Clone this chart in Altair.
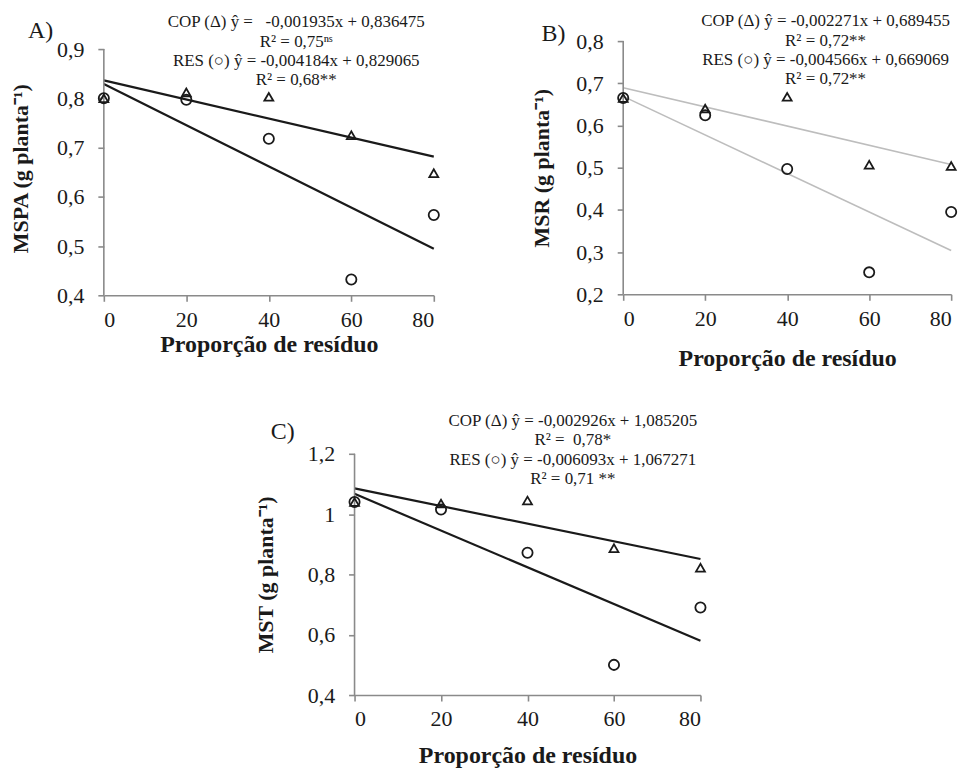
import altair as alt
import pandas as pd

# ---------------- data ----------------
x_vals = [0, 20, 40, 60, 80]

mspa_cop = [0.800, 0.812, 0.803, 0.725, 0.648]
mspa_res = [0.800, 0.797, 0.718, 0.432, 0.563]

msr_cop = [0.665, 0.640, 0.668, 0.507, 0.504]
msr_res = [0.665, 0.624, 0.497, 0.252, 0.395]

mst_cop = [1.040, 1.035, 1.045, 0.887, 0.822]
mst_res = [1.040, 1.015, 0.872, 0.500, 0.690]

# regression coefficients (slope, intercept) printed on the chart
coef_a = {"COP": (-0.001935, 0.836475), "RES": (-0.004184, 0.829065)}
coef_b = {"COP": (-0.002271, 0.689455), "RES": (-0.004566, 0.669069)}
coef_c = {"COP": (-0.002926, 1.085205), "RES": (-0.006093, 1.067271)}

ann_a = ["COP (\u0394) \u0177 = \u00a0\u00a0-0,001935x + 0,836475",
         "R\u00b2 = 0,75\u207f\u02e2",
         "RES (\u25cb) \u0177 = -0,004184x + 0,829065",
         "R\u00b2 = 0,68**"]
ann_b = ["COP (\u0394) \u0177 = -0,002271x + 0,689455",
         "R\u00b2 = 0,72**",
         "RES (\u25cb) \u0177 = -0,004566x + 0,669069",
         "R\u00b2 = 0,72**"]
ann_c = ["COP (\u0394) \u0177 = -0,002926x + 1,085205",
         "R\u00b2 = \u00a00,78*",
         "RES (\u25cb) \u0177 = -0,006093x + 1,067271",
         "R\u00b2 = 0,71 **"]

FONT = "Liberation Serif"
INK = "#1a1a1a"
AX = "#8a8a8a"


def panel(cop, res, coef, ydom, ytop, yticks, ytitle, label, ann, line_color, line_w,
          w, h, ann_x, ann_y, ann_dy, lab_x, lab_y, ytitle_pad, xtitle_pad, left_pad=None):
    pts = pd.DataFrame({
        "x": x_vals * 2,
        "y": cop + res,
        "g": ["COP"] * len(x_vals) + ["RES"] * len(x_vals),
    })
    ln = pd.DataFrame({
        "x": [0, 80, 0, 80],
        "g": ["COP", "COP", "RES", "RES"],
        "b": [coef["COP"][0]] * 2 + [coef["RES"][0]] * 2,
        "a": [coef["COP"][1]] * 2 + [coef["RES"][1]] * 2,
    })
    axis_df = pd.DataFrame({"x": [0], "y0": [ydom[0]], "y1": [ydom[1]]})
    xs = alt.Scale(domain=[0, 80], nice=False)
    ys = alt.Scale(domain=[ydom[0], ytop], nice=False, zero=False)
    xax = alt.Axis(values=[0, 20, 40, 60, 80], title="Proporção de resíduo",
                   titlePadding=xtitle_pad, labelPadding=8, titleFontSize=24,
                   labelFont=FONT, titleFont=FONT)
    yax = alt.Axis(values=yticks, title=ytitle, titlePadding=ytitle_pad, labelPadding=14,
                   titleFontSize=22, domain=False, labelFont=FONT, titleFont=FONT,
                   labelExpr="replace(toString(datum.value), '.', ',')")

    lines = alt.Chart(ln).transform_calculate(
        yhat="datum.a + datum.b * datum.x"
    ).mark_line(color=line_color, strokeWidth=line_w).encode(
        x=alt.X("x:Q", scale=xs, axis=xax),
        y=alt.Y("yhat:Q", scale=ys, axis=yax),
        detail="g:N",
    )
    yline = alt.Chart(axis_df).mark_rule(color=AX, strokeWidth=1.6).encode(
        x=alt.X("x:Q", scale=xs),
        y=alt.Y("y0:Q", scale=ys),
        y2="y1:Q",
    )
    points = alt.Chart(pts).mark_point(filled=False, strokeWidth=1.8, color=INK, opacity=1).encode(
        x=alt.X("x:Q", scale=xs),
        y=alt.Y("y:Q", scale=ys),
        shape=alt.Shape("g:N", scale=alt.Scale(domain=["COP", "RES"], range=["triangle-up", "circle"]), legend=None),
        size=alt.Size("g:N", scale=alt.Scale(domain=["COP", "RES"], range=[80, 105]), legend=None),
    )
    layers = [lines, yline, points]
    for i, t in enumerate(ann):
        layers.append(
            alt.Chart(axis_df).mark_text(text=t, font=FONT, fontSize=17, color=INK, align="center", baseline="middle")
            .encode(x=alt.value(ann_x), y=alt.value(ann_y + i * ann_dy))
        )
    layers.append(
        alt.Chart(axis_df).mark_text(text=label, font=FONT, fontSize=24, color=INK, align="left", baseline="middle")
        .encode(x=alt.value(lab_x), y=alt.value(lab_y))
    )
    if left_pad is not None:
        # invisible spacer that widens the panel's bounds to the left (for centring)
        layers.append(
            alt.Chart(axis_df).mark_text(text=".", fontSize=11, opacity=0, align="left", baseline="middle")
            .encode(x=alt.value(left_pad), y=alt.value(h / 2))
        )
    return alt.layer(*layers).properties(width=w, height=h)


# panel A is drawn 8px taller at the top so that its 0,9 tick sits lower than B's 0,8
A = panel(mspa_cop, mspa_res, coef_a, [0.4, 0.9], 0.9162, [0.4, 0.5, 0.6, 0.7, 0.8, 0.9],
          "MSPA (g planta\u207b\u00b9)", "A)", ann_a, INK, 2.2,
          331, 255, 193, -19, 19.5, -76, -10, 24, 2)
B = panel(msr_cop, msr_res, coef_b, [0.2, 0.8], 0.8, [0.2, 0.3, 0.4, 0.5, 0.6, 0.7, 0.8],
          "MSR (g planta\u207b\u00b9)", "B)", ann_b, "#bdbdbd", 1.6,
          329, 254, 203, -20, 19.5, -82, -7, 22, 17)
C = panel(mst_cop, mst_res, coef_c, [0.4, 1.2], 1.2, [0.4, 0.6, 0.8, 1.0, 1.2],
          "MST (g planta\u207b\u00b9)", "C)", ann_c, INK, 2.2,
          347, 242, 219, -33, 19.5, -84, -22, 30, 14, left_pad=-107)

chart = alt.vconcat(
    alt.hconcat(A, B, spacing=190, bounds="flush"),
    C,
    spacing=42,
    center=True,
).properties(
    padding={"left": 1, "top": 3, "right": 0, "bottom": 0},
    background="white",
).configure(font=FONT).configure_view(stroke=None).configure_axis(
    grid=False,
    domainColor=AX,
    domainWidth=1.6,
    tickColor=AX,
    tickWidth=1.6,
    tickSize=6,
    labelFont=FONT,
    labelFontSize=22,
    labelColor=INK,
    titleFont=FONT,
    titleFontWeight="bold",
    titleColor=INK,
)

chart.save("out.html", embed_options={"renderer": "svg", "actions": False})
